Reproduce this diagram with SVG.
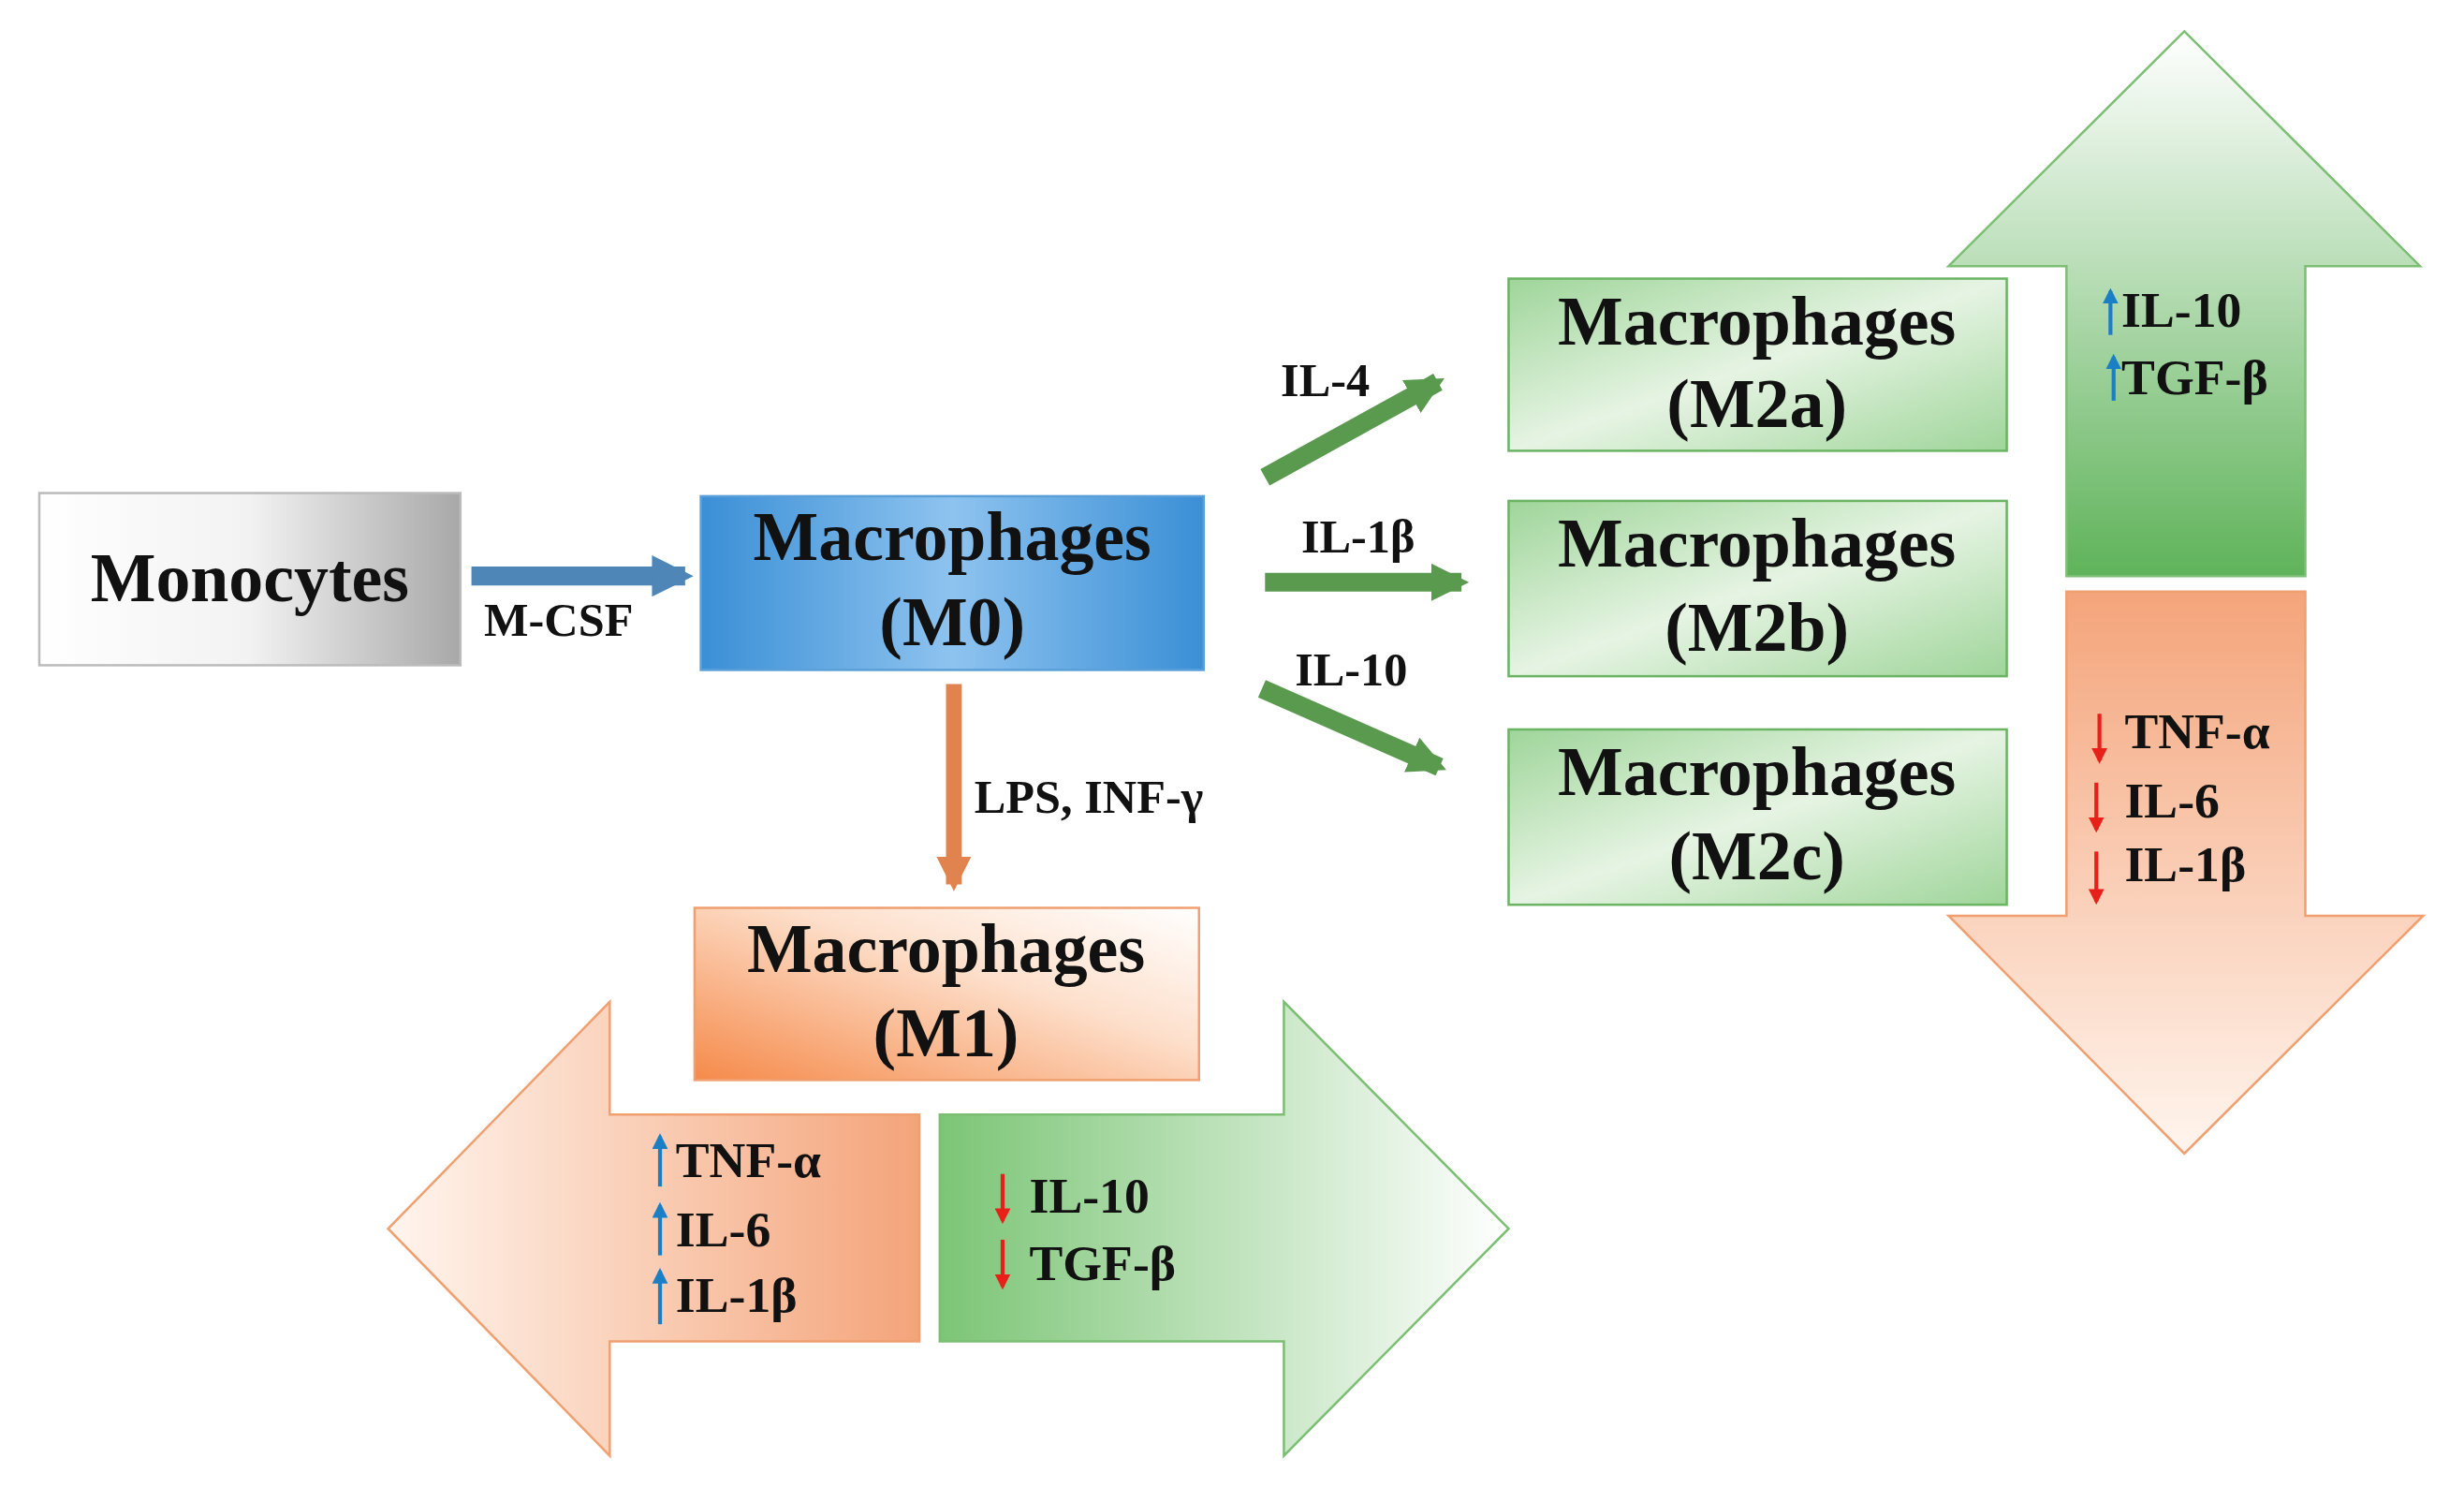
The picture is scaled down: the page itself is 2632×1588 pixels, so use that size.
<svg xmlns="http://www.w3.org/2000/svg" width="2632" height="1588" viewBox="0 0 2632 1588">
<defs>
<linearGradient id="gGray" x1="0" y1="0" x2="1" y2="0"><stop offset="0" stop-color="#ffffff"/><stop offset="0.5" stop-color="#f2f2f2"/><stop offset="1" stop-color="#a8a8a8"/></linearGradient>
<linearGradient id="gBlue" x1="0" y1="0" x2="1" y2="0"><stop offset="0" stop-color="#3a8fd6"/><stop offset="0.5" stop-color="#8ec3ef"/><stop offset="1" stop-color="#3a8fd6"/></linearGradient>
<linearGradient id="gGreenBox" x1="0" y1="0" x2="1" y2="1"><stop offset="0" stop-color="#9fd59a"/><stop offset="0.5" stop-color="#e6f4e3"/><stop offset="1" stop-color="#9fd59a"/></linearGradient>
<linearGradient id="gOrangeBox" x1="0" y1="1" x2="1" y2="0"><stop offset="0" stop-color="#f58a4a"/><stop offset="0.6" stop-color="#fde0cc"/><stop offset="1" stop-color="#ffffff"/></linearGradient>
<linearGradient id="gOrL" x1="1" y1="0" x2="0" y2="0"><stop offset="0" stop-color="#f4a47a"/><stop offset="1" stop-color="#fff5ee"/></linearGradient>
<linearGradient id="gGrR" x1="0" y1="0" x2="1" y2="0"><stop offset="0" stop-color="#7cc576"/><stop offset="1" stop-color="#ffffff"/></linearGradient>
<linearGradient id="gGrUp" x1="0" y1="1" x2="0" y2="0"><stop offset="0" stop-color="#5fb35a"/><stop offset="1" stop-color="#ffffff"/></linearGradient>
<linearGradient id="gOrDown" x1="0" y1="0" x2="0" y2="1"><stop offset="0" stop-color="#f4a47a"/><stop offset="1" stop-color="#fff5ee"/></linearGradient>
<marker id="mB" viewBox="0 0 10 10" refX="8" refY="5" markerWidth="2.2" markerHeight="2.2" orient="auto"><path d="M0,0 L10,5 L0,10 z" fill="#4f86b8"/></marker>
<marker id="mG" viewBox="0 0 10 10" refX="8" refY="5" markerWidth="2" markerHeight="2" orient="auto"><path d="M0,0 L10,5 L0,10 z" fill="#5a9a4f"/></marker>
<marker id="mO" viewBox="0 0 10 10" refX="8" refY="5" markerWidth="2.2" markerHeight="2.2" orient="auto"><path d="M0,0 L10,5 L0,10 z" fill="#e0834e"/></marker>
<marker id="mU" viewBox="0 0 10 10" refX="8" refY="5" markerWidth="4" markerHeight="4" orient="auto"><path d="M0,0 L10,5 L0,10 z" fill="#1a7fc4"/></marker>
<marker id="mD" viewBox="0 0 10 10" refX="8" refY="5" markerWidth="4" markerHeight="4" orient="auto"><path d="M0,0 L10,5 L0,10 z" fill="#e8201a"/></marker>
</defs>
<style>
text{font-family:"Liberation Serif","DejaVu Serif",serif;font-weight:bold;fill:#111}
.big{font-size:44px;text-anchor:middle}
.lab{font-size:30px}
.cy{font-size:32px}
.box{stroke-width:1.5}
.up{stroke:#1a7fc4;stroke-width:2.5;fill:none}
.dn{stroke:#e8201a;stroke-width:2.5;fill:none}
</style>
<rect width="2632" height="1588" fill="#fff"/>
<g transform="scale(1.6786 1.6716)">
<g id="bigarrows">
<polygon points="1390,20 1540,170 1467,170 1467,368 1315,368 1315,170 1240,170" fill="url(#gGrUp)" stroke="#7cbf74" stroke-width="1.5"/>
<polygon points="1315,378 1467,378 1467,585 1542,585 1390,737 1240,585 1315,585" fill="url(#gOrDown)" stroke="#f0a070" stroke-width="1.5"/>
<polygon points="247,785 388,640 388,712 585,712 585,857 388,857 388,930" fill="url(#gOrL)" stroke="#f0a070" stroke-width="1.5"/>
<polygon points="960,785 817,640 817,712 598,712 598,857 817,857 817,930" fill="url(#gGrR)" stroke="#7cbf74" stroke-width="1.5"/>
</g>
<g id="connectors">
<line x1="300" y1="368" x2="436" y2="368" stroke="#4f86b8" stroke-width="12" marker-end="url(#mB)"/>
<line x1="805" y1="305" x2="915" y2="244" stroke="#5a9a4f" stroke-width="12" marker-end="url(#mG)"/>
<line x1="805" y1="372" x2="930" y2="372" stroke="#5a9a4f" stroke-width="12" marker-end="url(#mG)"/>
<line x1="803" y1="440" x2="916" y2="490" stroke="#5a9a4f" stroke-width="12" marker-end="url(#mG)"/>
<line x1="607" y1="437" x2="607" y2="565" stroke="#e0834e" stroke-width="10" marker-end="url(#mO)"/>
<text class="lab" x="308" y="406">M-CSF</text>
<text class="lab" x="815" y="253">IL-4</text>
<text class="lab" x="828" y="353">IL-1β</text>
<text class="lab" x="824" y="438">IL-10</text>
<text class="lab" x="620" y="519">LPS, INF-γ</text>
</g>
<g id="monocytes"><rect class="box" x="25" y="315" width="268" height="110" fill="url(#gGray)" stroke="#bbb"/><text class="big" x="159" y="384">Monocytes</text></g>
<g id="m0"><rect class="box" x="446" y="317" width="320" height="111" fill="url(#gBlue)" stroke="#5a9fd8"/><text class="big" x="606" y="358">Macrophages</text><text class="big" x="606" y="412">(M0)</text></g>
<g id="m2a"><rect class="box" x="960" y="178" width="317" height="110" fill="url(#gGreenBox)" stroke="#6bb463"/><text class="big" x="1118" y="220">Macrophages</text><text class="big" x="1118" y="273">(M2a)</text></g>
<g id="m2b"><rect class="box" x="960" y="320" width="317" height="112" fill="url(#gGreenBox)" stroke="#6bb463"/><text class="big" x="1118" y="362">Macrophages</text><text class="big" x="1118" y="416">(M2b)</text></g>
<g id="m2c"><rect class="box" x="960" y="466" width="317" height="112" fill="url(#gGreenBox)" stroke="#6bb463"/><text class="big" x="1118" y="508">Macrophages</text><text class="big" x="1118" y="562">(M2c)</text></g>
<g id="m1"><rect class="box" x="442" y="580" width="321" height="110" fill="url(#gOrangeBox)" stroke="#f0a070"/><text class="big" x="602" y="621">Macrophages</text><text class="big" x="602" y="675">(M1)</text></g>
<g id="m2labels">
<line class="up" x1="1343" y1="214" x2="1343" y2="186" marker-end="url(#mU)"/><text class="cy" x="1350" y="209">IL-10</text>
<line class="up" x1="1345" y1="256" x2="1345" y2="228" marker-end="url(#mU)"/><text class="cy" x="1350" y="252">TGF-β</text>
<line class="dn" x1="1336" y1="456" x2="1336" y2="486" marker-end="url(#mD)"/><text class="cy" x="1352" y="478">TNF-α</text>
<line class="dn" x1="1334" y1="500" x2="1334" y2="530" marker-end="url(#mD)"/><text class="cy" x="1352" y="522">IL-6</text>
<line class="dn" x1="1334" y1="544" x2="1334" y2="576" marker-end="url(#mD)"/><text class="cy" x="1352" y="563">IL-1β</text>
</g>
<g id="m1labels">
<line class="up" x1="420" y1="758" x2="420" y2="726" marker-end="url(#mU)"/><text class="cy" x="430" y="752">TNF-α</text>
<line class="up" x1="420" y1="802" x2="420" y2="770" marker-end="url(#mU)"/><text class="cy" x="430" y="796">IL-6</text>
<line class="up" x1="420" y1="846" x2="420" y2="812" marker-end="url(#mU)"/><text class="cy" x="430" y="838">IL-1β</text>
<line class="dn" x1="638" y1="750" x2="638" y2="780" marker-end="url(#mD)"/><text class="cy" x="655" y="775">IL-10</text>
<line class="dn" x1="638" y1="792" x2="638" y2="822" marker-end="url(#mD)"/><text class="cy" x="655" y="818">TGF-β</text>
</g>
</g>
</svg>
